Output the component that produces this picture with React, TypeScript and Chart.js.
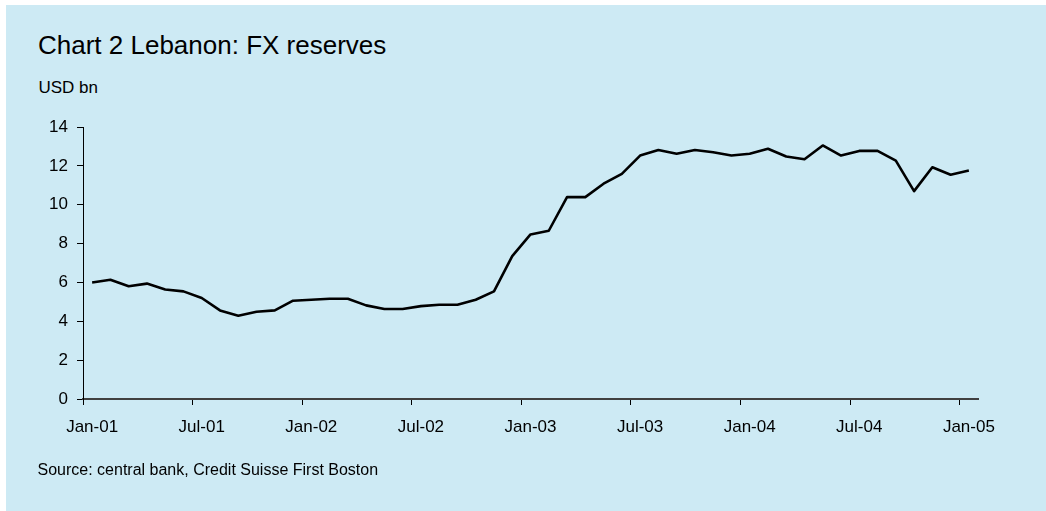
import React, { useEffect, useRef } from "react";
import { Chart, registerables } from "chart.js";

Chart.register(...registerables);

const monthNames = ["Jan", "Feb", "Mar", "Apr", "May", "Jun", "Jul", "Aug", "Sep", "Oct", "Nov", "Dec"];
const yearCodes = ["01", "02", "03", "04", "05"];

const reserves2001 = [6.0, 6.14, 5.8, 5.94, 5.64, 5.54, 5.2, 4.56, 4.29, 4.49, 4.56, 5.06];
const reserves2002 = [5.11, 5.16, 5.16, 4.82, 4.63, 4.63, 4.78, 4.85, 4.85, 5.11, 5.54, 7.35];
const reserves2003 = [8.47, 8.66, 10.39, 10.39, 11.08, 11.59, 12.53, 12.82, 12.62, 12.82, 12.7, 12.53];
const reserves2004 = [12.62, 12.88, 12.48, 12.34, 13.05, 12.53, 12.77, 12.77, 12.27, 10.7, 11.93, 11.54];
const reserves2005 = [11.76];

const reserves = [...reserves2001, ...reserves2002, ...reserves2003, ...reserves2004, ...reserves2005];

const categories: string[] = [];
yearCodes.forEach((y) => monthNames.forEach((m) => categories.push(`${m}-${y}`)));
const labels = categories.slice(0, reserves.length);

const yTicks = [0, 2, 4, 6, 8, 10, 12, 14];

const titleText = "Chart 2 Lebanon: FX reserves";
const unitText = "USD bn";
const sourceText = "Source: central bank, Credit Suisse First Boston";

const FONT = "'Liberation Sans', Arial, Helvetica, sans-serif";

export default function App() {
  const canvasRef = useRef<HTMLCanvasElement | null>(null);

  useEffect(() => {
    if (!canvasRef.current) return;
    const chart = new Chart(canvasRef.current, {
      type: "line",
      data: {
        labels,
        datasets: [
          {
            data: reserves,
            borderColor: "#000000",
            borderWidth: 2.6,
            pointRadius: 0,
            tension: 0,
            borderJoinStyle: "round",
            fill: false,
          },
        ],
      },
      options: {
        animation: false,
        responsive: false,
        devicePixelRatio: 1,
        events: [],
        layout: { padding: { left: 0, top: 127, right: 68, bottom: 72 } },
        plugins: { legend: { display: false }, tooltip: { enabled: false }, title: { display: false } },
        scales: {
          x: {
            type: "category",
            offset: true,
            grid: {
              offset: true,
              drawOnChartArea: false,
              drawTicks: true,
              tickLength: 6,
              lineWidth: 1,
              color: (ctx: any) => (ctx.index % 6 === 0 ? "#000000" : "rgba(0,0,0,0)"),
            },
            border: { display: true, color: "#404040", width: 2 },
            ticks: {
              autoSkip: false,
              maxRotation: 0,
              minRotation: 0,
              padding: 12,
              color: "#000000",
              font: { family: FONT, size: 17 },
              callback: (_v: any, i: number) => (i % 6 === 0 ? labels[i] : ""),
            },
            afterFit: (s: any) => {
              s.height = 40;
            },
          },
          y: {
            min: 0,
            max: 14,
            grid: {
              drawOnChartArea: false,
              drawTicks: true,
              tickLength: 6,
              color: "#000000",
            },
            border: { display: true, color: "#000000", width: 1 },
            afterBuildTicks: (s: any) => {
              s.ticks = yTicks.map((v) => ({ value: v }));
            },
            ticks: {
              padding: 9,
              color: "#000000",
              font: { family: FONT, size: 17 },
            },
            afterFit: (s: any) => {
              s.width = 83;
            },
          },
        },
      },
    });
    return () => chart.destroy();
  }, []);

  const textBase: React.CSSProperties = {
    position: "absolute",
    fontFamily: FONT,
    color: "#000000",
    whiteSpace: "nowrap",
    margin: 0,
  };

  return (
    <div style={{ position: "fixed", left: 0, top: 0, width: 1046, height: 511, background: "#ffffff", overflow: "hidden" }}>
      <div style={{ position: "absolute", left: 6, top: 5, width: 1040, height: 506, background: "#cdeaf4" }} />
      <div style={{ ...textBase, left: 38, top: 32, fontSize: 26, lineHeight: "26px" }}>{titleText}</div>
      <div style={{ ...textBase, left: 38.5, top: 79, fontSize: 17, lineHeight: "17px" }}>{unitText}</div>
      <canvas ref={canvasRef} width={1046} height={511} style={{ position: "absolute", left: 0, top: 0 }} />
      <div style={{ ...textBase, left: 37.5, top: 461.5, fontSize: 16, lineHeight: "16px" }}>{sourceText}</div>
    </div>
  );
}
